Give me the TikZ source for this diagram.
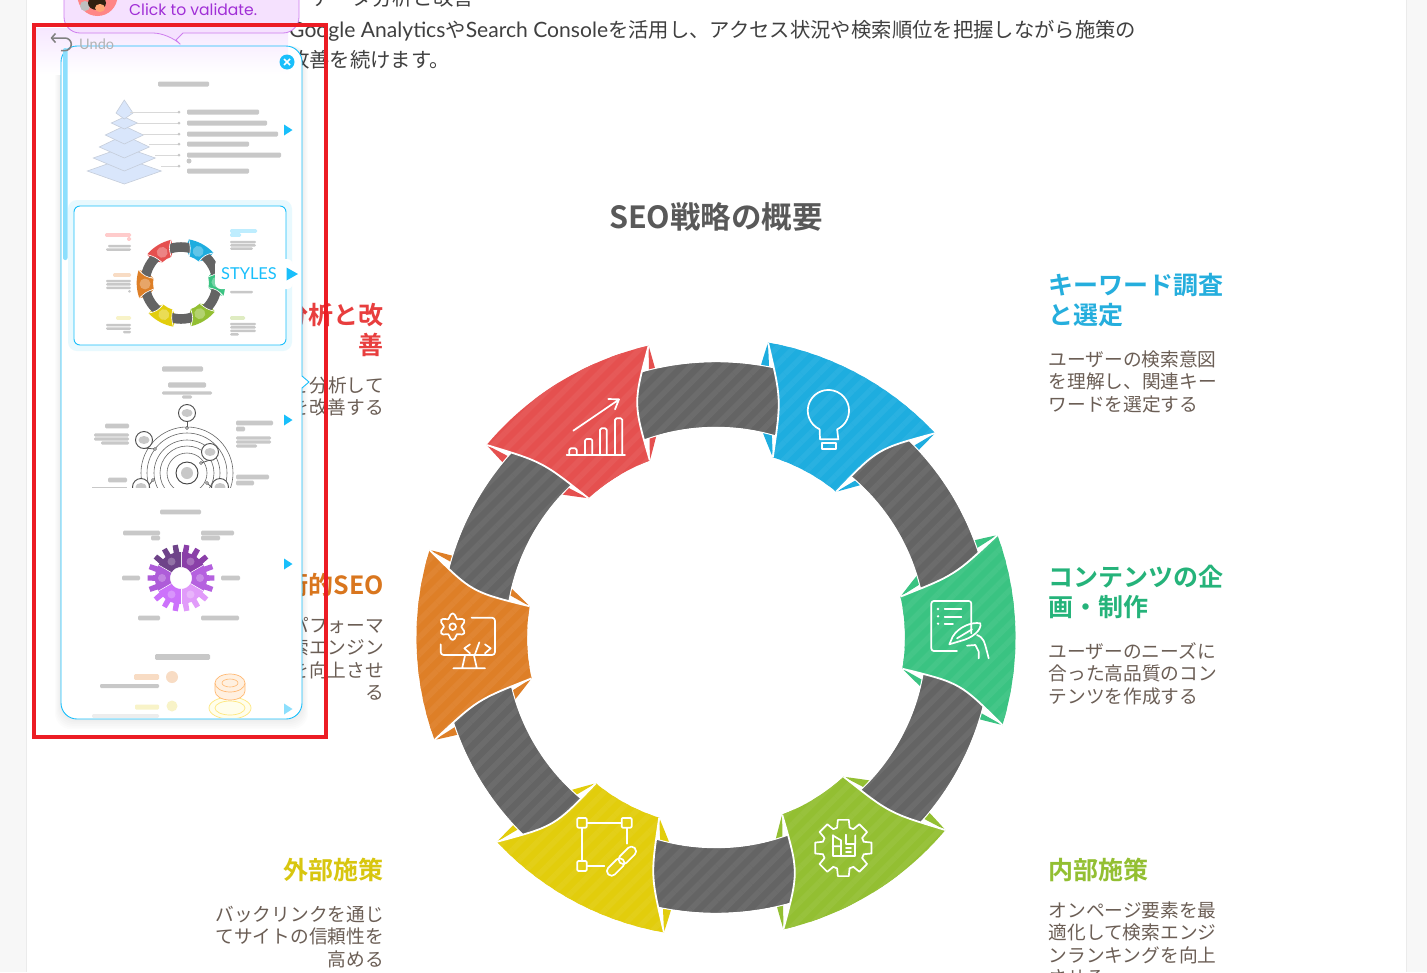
\documentclass[tikz,border=0pt]{standalone}
\usepackage{fontspec}
\setmainfont{Noto Sans CJK JP}[BoldFont=* Bold]
\newfontfamily\lat{Lato}
\newfontfamily\pop{Poppins}
\usetikzlibrary{patterns.meta}
\definecolor{cblue}{HTML}{1EADDF}
\definecolor{cgreen}{HTML}{3AC382}
\definecolor{clime}{HTML}{93BF32}
\definecolor{cyellow}{HTML}{E2CD0C}
\definecolor{corange}{HTML}{DE7F27}
\definecolor{cred}{HTML}{E5504F}
\definecolor{cgray}{HTML}{646464}
\definecolor{hblue}{HTML}{25AEDD}
\definecolor{hgreen}{HTML}{25B37A}
\definecolor{hlime}{HTML}{93BF32}
\definecolor{hyellow}{HTML}{D8C60F}
\definecolor{horange}{HTML}{D9761E}
\definecolor{hred}{HTML}{E83E3E}
\definecolor{bodyc}{HTML}{6B5E55}
\definecolor{uiblue}{HTML}{19BFFB}
\definecolor{barg}{HTML}{C8C8C8}
\definecolor{boxred}{HTML}{EC1C24}
\definecolor{paley}{HTML}{F8F3C8}
\definecolor{paleo}{HTML}{F8DCC4}
\tikzset{
  txthead/.style={inner sep=0pt,font=\bfseries\fontsize{25}{30}\selectfont},
  txtbody/.style={inner sep=0pt,text=bodyc,font=\fontsize{18.7}{22}\selectfont},
  txttop/.style={inner sep=0pt,text=black!75,anchor=base west,font=\fontsize{20.35}{24}\selectfont},
  iconline/.style={draw=white,line width=1.7pt,line cap=round,line join=round},
}
\newcommand\segpath{(-95,-284) arc[start angle=-108.5,end angle=-71.5,radius=299.5] .. controls (51.8,-243) .. (36.1,-185.5) arc[start angle=-79,end angle=-101,radius=189] .. controls (-56.1,-240.4) .. cycle}
\newcommand\stripes[1]{\path[pattern={Lines[angle=45,distance=12pt,line width=5.5pt]},pattern color=#1!95!white]}
\newcommand\flaps[2]{\begin{scope}[rotate=-#2]
  \fill[#1] (95,-284) .. controls (79.2,-226.5) .. (36.1,-185.5) -- cycle;
  \fill[#1] (-95,-284) .. controls (-83.5,-224) .. (-36.1,-185.5) -- cycle;
\end{scope}}
\newcommand\segmain[2]{\begin{scope}[rotate=-#2]
  \fill[#1] \segpath;
  \stripes{#1} \segpath;
  \draw[white,line width=1.8pt,line join=round] (95,-284) .. controls (51.8,-243) .. (36.1,-185.5);
  \draw[white,line width=1.8pt,line join=round] (-95,-284) .. controls (-56.1,-240.4) .. (-36.1,-185.5);
\end{scope}}
\newcommand\minimain[2]{\begin{scope}[rotate=-#2]
  \fill[#1] \segpath;
  \draw[white,line width=.6pt] (95,-284) .. controls (51.8,-243) .. (36.1,-185.5);
  \draw[white,line width=.6pt] (-95,-284) .. controls (-56.1,-240.4) .. (-36.1,-185.5);
  \fill[white,opacity=.3] (0,-243) circle[radius=37];
\end{scope}}
\def\bh{2.5}
\newcommand\gb[4][barg]{\fill[#1,rounded corners=1.2pt] (#2,#4-\bh) rectangle (#3,#4+\bh);}
\newcommand\tri[2][uiblue]{\fill[#1] (284,#2-5.5) -- (292.5,#2) -- (284,#2+5.5) -- cycle;}
\newcommand\pin[4]{\draw[black!65,line width=.8pt] (#3,#4) -- (#1,#2+8); \draw[black!70,fill=white,line width=.9pt] (#1,#2) circle[radius=8.5]; \fill[barg] (#1,#2) ellipse[x radius=5.5,y radius=4]; \draw[black!70,fill=white,line width=.6pt] (#3,#4) circle[radius=1.5];}
\newcommand\gearsec[2]{%
  \pgfmathsetmacro\gsa{#2}\pgfmathsetmacro\gsb{#2+60}%
  \fill[#1] (\gsa:11) -- (\gsa:26) arc[start angle=\gsa,end angle=\gsb,radius=26] -- (\gsb:11) arc[start angle=\gsb,end angle=\gsa,radius=11] -- cycle;
  \foreach \t in {10,30,50}{\fill[#1] (#2+\t-6.5:25) -- (#2+\t-4.5:33.5) -- (#2+\t+4.5:33.5) -- (#2+\t+6.5:25) -- cycle;}
  \fill[white,opacity=.25] (#2+30:19) circle[radius=4];
  \draw[white,line width=.5pt] (#2:11) -- (#2:34);}
\begin{document}
\begin{tikzpicture}[x=1pt,y=-1pt]
\useasboundingbox (0,0) rectangle (1427,972);
\fill[black!3] (0,0) rectangle (1427,972);
\fill[white] (26,0) rectangle (1406,972);
\draw[black!8,line width=.8pt] (26,0) -- (26,972) (1406,0) -- (1406,972);
% ===== article text
\node[txttop] (t1) at (311,5) {データ分析と改善};
\node[txttop] (t2) at (289,37) {{\lat\fontsize{21.1}{24}\selectfont Google Analytics}や{\lat\fontsize{21.1}{24}\selectfont Search Console}を活用し、アクセス状況や検索順位を把握しながら施策の};
\node[txttop] (t3) at (289,67) {改善を続けます。};
\node[inner sep=0pt,text=black!65,font=\bfseries\fontsize{30.5}{36}\selectfont] (title) at (716,217) {SEO戦略の概要};
% ===== right labels
\node[txthead,text=hblue,anchor=base west] (a1) at (1048.5,294) {キーワード調査};
\node[txthead,text=hblue,anchor=base west] (a2) at (1048.5,324) {と選定};
\node[txtbody,anchor=base west] (a3) at (1048.5,366.3) {ユーザーの検索意図};
\node[txtbody,anchor=base west] (a4) at (1048.5,388.8) {を理解し、関連キー};
\node[txtbody,anchor=base west] (a5) at (1048.5,411.3) {ワードを選定する};
\node[txthead,text=hgreen,anchor=base west] (b1) at (1048.5,586) {コンテンツの企};
\node[txthead,text=hgreen,anchor=base west] (b2) at (1048.5,616) {画・制作};
\node[txtbody,anchor=base west] (b3) at (1048.5,658.3) {ユーザーのニーズに};
\node[txtbody,anchor=base west] (b4) at (1048.5,680.8) {合った高品質のコン};
\node[txtbody,anchor=base west] (b5) at (1048.5,703.3) {テンツを作成する};
\node[txthead,text=hlime,anchor=base west] (c1) at (1048.5,879) {内部施策};
\node[txtbody,anchor=base west] (c2) at (1048.5,917.3) {オンページ要素を最};
\node[txtbody,anchor=base west] (c3) at (1048.5,939.8) {適化して検索エンジ};
\node[txtbody,anchor=base west] (c4) at (1048.5,962.3) {ンランキングを向上};
\node[txtbody,anchor=base west] (c5) at (1048.5,984.8) {させる};
% ===== left labels
\node[txthead,text=hred,anchor=base east] (d1) at (384,324) {分析と改};
\node[txthead,text=hred,anchor=base east] (d2) at (384,354) {善};
\node[txtbody,anchor=base east] (d3) at (384,392.3) {を分析して};
\node[txtbody,anchor=base east] (d4) at (384,414.8) {を改善する};
\node[txthead,text=horange,anchor=base east] (e1) at (384,594) {術的SEO};
\node[txtbody,anchor=base east] (e2) at (384,632.3) {パフォーマ};
\node[txtbody,anchor=base east] (e3) at (384,654.8) {索エンジン};
\node[txtbody,anchor=base east] (e4) at (384,677.3) {を向上させ};
\node[txtbody,anchor=base east] (e5) at (384,699.8) {る};
\node[txthead,text=hyellow,anchor=base east] (f1) at (384,879) {外部施策};
\node[txtbody,anchor=base east] (f2) at (384,921.3) {バックリンクを通じ};
\node[txtbody,anchor=base east] (f3) at (384,943.8) {てサイトの信頼性を};
\node[txtbody,anchor=base east] (f4) at (384,966.3) {高める};
% ===== big ring
\begin{scope}[shift={(716,637.5)}]
  \flaps{cblue}{28.5}\flaps{cgreen}{88.5}\flaps{clime}{148.5}\flaps{cyellow}{208.5}\flaps{corange}{268.5}\flaps{cred}{328.5}
  \fill[cgray,even odd rule] (0,0) circle[radius=275.5] (0,0) circle[radius=210.5];
  \path[pattern={Lines[angle=45,distance=12pt,line width=5.5pt]},pattern color=cgray!95!white,even odd rule] (0,0) circle[radius=275.5] (0,0) circle[radius=210.5];
  \draw[white,line width=1pt] (0,0) circle[radius=275.8] (0,0) circle[radius=210.2];
  \segmain{cblue}{28.5}\segmain{cgreen}{88.5}\segmain{clime}{148.5}\segmain{cyellow}{208.5}\segmain{corange}{268.5}\segmain{cred}{328.5}
\end{scope}
% bulb icon
\begin{scope}[shift={(740,330)},x=.3333pt,y=-.3333pt]
  \draw[iconline] (239,298) arc[start angle=115,end angle=425,radius=62] -- (295,328) -- (240,328) -- cycle;
  \draw[iconline] (247,340) -- (247,356) -- (287,356) -- (287,340) -- cycle;
\end{scope}
% chart icon
\begin{scope}[shift={(560,390)},x=.3333pt,y=-.3333pt]
  \draw[iconline] (40,122) -- (175,30) (145,27) -- (177,28) -- (165,58);
  \draw[iconline] (20,195) -- (195,195);
  \draw[iconline,rounded corners=1.5pt] (28,195) -- (28,175) -- (50,175) -- (50,195);
  \draw[iconline,rounded corners=1.5pt] (75,195) -- (75,147) -- (97,147) -- (97,195);
  \draw[iconline,rounded corners=1.5pt] (120,195) -- (120,115) -- (140,115) -- (140,195);
  \draw[iconline,rounded corners=1.5pt] (165,195) -- (165,85) -- (187,85) -- (187,195);
\end{scope}
% computer / gear icon
\begin{scope}[shift={(430,605)},x=.3333pt,y=-.3333pt]
  \draw[iconline] plot[smooth cycle,samples=36,domain=0:350] ({68+(33-7*cos(6*\x))*cos(\x)},{65+(33-7*cos(6*\x))*sin(\x)});
  \draw[iconline] (68,65) circle[radius=10];
  \draw[iconline,rounded corners=3pt] (125,38) -- (195,38) -- (195,150) -- (32,150) -- (32,118);
  \draw[iconline] (105,152) -- (97,187) (132,152) -- (140,187) (70,190) -- (165,190);
  \draw[iconline] (120,118) -- (103,130) -- (120,145) (148,112) -- (135,148) (165,118) -- (182,130) -- (165,145);
\end{scope}
% document / pen icon
\begin{scope}[shift={(922,595)},x=.3333pt,y=-.3333pt]
  \draw[iconline,rounded corners=2.5pt] (148,115) -- (148,18) -- (28,18) -- (28,168) -- (105,168);
  \fill[white] (48,42) circle[radius=4] (48,64) circle[radius=4] (48,86) circle[radius=4];
  \draw[iconline] (68,42) -- (118,42) (68,65) -- (118,65) (68,87) -- (93,87);
  \draw[iconline] (82,148) -- (92,125) .. controls (110,95) and (150,80) .. (175,85) .. controls (180,105) and (150,130) .. (115,138) -- cycle;
  \draw[iconline] (105,130) -- (150,103);
  \draw[iconline] (135,152) -- (160,150) -- (170,170) -- (170,190);
  \draw[iconline] (165,120) .. controls (185,130) .. (200,190);
\end{scope}
% link icon
\begin{scope}[shift={(570,812)},x=.3333pt,y=-.3333pt]
  \draw[iconline,rounded corners=1pt] (22,18) rectangle (50,47) (155,18) rectangle (185,47) (22,147) rectangle (50,177);
  \draw[iconline] (50,32) -- (155,32) (37,47) -- (37,147) (170,47) -- (170,95) (50,162) -- (103,162);
  \draw[iconline,rounded corners=4.4pt,rotate around={45:(137,165)}] (106,151) rectangle (168,179);
  \draw[iconline,rounded corners=4.4pt,rotate around={45:(172,130)}] (141,116) rectangle (203,144);
\end{scope}
% cog icon
\begin{scope}[shift={(806,812)},x=.3333pt,y=-.3333pt]
  \begin{scope}[shift={(112,108)}]
  \foreach \a in {0,45,...,315}{
    \draw[iconline] (\a-17:64) -- (\a-11:86) -- (\a+11:86) -- (\a+17:64) -- (\a+28:64);
  }
  \end{scope}
  \draw[iconline] (80,70) -- (80,133) -- (148,133) -- (148,95) -- (120,95) -- (120,68);
  \draw[iconline] (80,70) -- (105,85) -- (105,133) (80,103) -- (105,103) (120,108) -- (135,108) (120,120) -- (135,120) (148,95) -- (148,70);
\end{scope}
% ===== side panel
\foreach \i in {1,...,6}{
  \fill[black,opacity=.012,rounded corners=16pt] (61-\i,46) rectangle (302+\i,719+\i*1.7);
}
\fill[white,rounded corners=16pt] (61,46) rectangle (302,719);
\shade[top color={rgb,255:red,246;green,231;blue,255},bottom color=white] (35.5,28) rectangle (288,74);
\draw[uiblue,line width=.9pt,rounded corners=16pt] (61,46) rectangle (302,719);
\fill[white] (301,376) -- (309,382) -- (301,388) -- cycle;
\draw[uiblue,line width=.9pt] (302,376) -- (309,382) -- (302,388);
\fill[uiblue!50!white,rounded corners=2pt] (63,48) rectangle (67.5,260);
\fill[uiblue] (287,62) circle[radius=7.5];
\draw[white,line width=1.6pt] (284,59) -- (290,65) (290,59) -- (284,65);
% bubble
\draw[draw={rgb,255:red,206;green,125;blue,238},fill={rgb,255:red,245;green,225;blue,254},line width=.8pt,rounded corners=16pt] (64,-30) -- (64,33) -- (169,33) [sharp corners] -- (176,40) -- (183,33) [rounded corners=16pt] -- (299,33) -- (299,-30);
\fill[pink!70!red] (97.5,-4) circle[radius=20];
\fill[black!25!white] (85,6) circle[radius=5];
\fill[black!75!brown] (97,3) ellipse[x radius=9,y radius=7];
\fill[orange!40!pink] (100,8) ellipse[x radius=5,y radius=4];
\node[inner sep=0pt,anchor=base west,text={rgb,255:red,160;green,47;blue,214},font=\pop\fontsize{15.6}{20}\selectfont] (val) at (129,15) {Click to validate.};
% undo
\draw[black!50,line width=1.5pt,line join=round] (55.5,33.5) -- (51.5,38) -- (55.5,42.5);
\draw[black!50,line width=1.5pt] (52,38) -- (65,38) arc[start angle=-90,end angle=90,radius=6.3] -- (61,50.5);
\node[inner sep=0pt,anchor=base west,text=black!30,font=\lat\fontsize{14.5}{18}\selectfont] (und) at (79,49) {Undo};
% --- item 1
\gb{158}{209}{84}
\foreach \w/\ya/\yb/\yc in {37/171/158/184,31/158/147/171,25/147/135/158,19/135/126/144,13/123/117/129}{
  \draw[fill={rgb,255:red,217;green,230;blue,251},draw={rgb,255:red,197;green,205;blue,218},line width=.6pt] (124.3-\w,\ya) -- (124.3,\yb) -- (124.3+\w,\ya) -- (124.3,\yc) -- cycle;
}
\draw[fill={rgb,255:red,217;green,230;blue,251},draw={rgb,255:red,197;green,205;blue,218},line width=.6pt] (124.3,100) -- (116,113) -- (124.3,119) -- (133,113) -- cycle;
\foreach \y/\xa in {112/130,123/137,134/143,144/149,155/155,166/161}{
  \draw[black!15,line width=.8pt] (\xa,\y) -- (179,\y);
  \fill[black!22] (179,\y) circle[radius=1.5];
}
\gb{187}{259}{112}\gb{187}{267}{123}\gb{187}{278}{134}\gb{187}{249}{144}\gb{187}{281}{155}\fill[barg] (189,161) circle[radius=2.5];\gb{187}{249}{171}
\tri{130}
% --- item 2
\fill[uiblue!10!white,rounded corners=9pt] (68,200) rectangle (292,351);
\draw[uiblue,fill=white,line width=.9pt,rounded corners=6pt] (74,206) rectangle (286,345);
\begin{scope}[shift={(181,283)},scale=.148]
  \flaps{cblue}{28.5}\flaps{cgreen}{88.5}\flaps{clime}{148.5}\flaps{cyellow}{208.5}\flaps{corange}{268.5}\flaps{cred}{328.5}
  \fill[cgray,even odd rule] (0,0) circle[radius=275.5] (0,0) circle[radius=210.5];
  \minimain{cblue}{28.5}\minimain{cgreen}{88.5}\minimain{clime}{148.5}\minimain{cyellow}{208.5}\minimain{corange}{268.5}\minimain{cred}{328.5}
\end{scope}
\def\bh{1.8}
\gb[red!20!white]{105}{131}{235}\gb[red!20!white]{127}{131}{239}
\gb[uiblue!28!white]{230}{257}{231}\gb[uiblue!28!white]{230}{241}{235}
\gb[paleo]{113}{131}{275}\gb[paley]{116}{131}{318}\gb[clime!30!white]{230}{245}{318}
\def\bh{1.25}
\gb{108}{131}{246}\gb{106}{131}{249.5}
\gb{230}{256}{242}\gb{230}{256}{245.3}\gb{230}{253}{248.6}
\gb{230}{253}{292}
\gb{106}{131}{281}\gb{106}{131}{284.4}\gb{106}{131}{287.8}\gb{128}{131}{291.4}
\gb{106}{131}{325}\gb{106}{131}{328.5}\gb{123}{131}{332}
\gb{230}{256}{324}\gb{230}{256}{327.4}\gb{230}{256}{330.8}\gb{230}{239}{334.3}
\fill[white,rounded corners=6pt] (215,259) rectangle (293,289);
\node[inner sep=0pt,anchor=base west,text=uiblue,font=\lat\fontsize{16.4}{18}\selectfont] (sty) at (221,279.5) {STYLES};
\fill[uiblue] (286.5,267.5) -- (298,274) -- (286.5,280.5) -- cycle;
% --- item 3
\def\bh{2.6}
\gb{162}{203}{369}\gb{168}{206}{385}\def\bh{1.6}\gb{162}{212}{393}\gb{182}{192}{397}\def\bh{2.3}
\gb{105}{129}{426}\gb{236}{273}{423}\gb{236}{245}{429}
\def\bh{1.6}
\gb{94}{129}{435}\gb{94}{129}{439}\gb{101}{129}{443}
\gb{236}{271}{438}\gb{236}{271}{442}\gb{236}{257}{446}
\def\bh{2.3}
\gb{108}{127}{480}\gb{236}{269}{477}\gb{236}{254}{483}
\draw[barg,line width=.7pt] (92,487) -- (127,487);
\begin{scope}
  \clip (62,400) rectangle (300,487.3);
  \foreach \r in {46,40,33,27,20}{\draw[black!60,line width=.6pt] (187,473) circle[radius=\r];}
  \draw[black!75,line width=.9pt] (187,473) circle[radius=11];
  \fill[barg] (187,473) circle[radius=6];
  \pin{187}{413}{187}{428}\pin{144}{440}{155}{449}\pin{210}{452}{201}{463}\pin{141}{487}{153}{480}\pin{220}{487}{207}{483}
\end{scope}
\tri{420}
% --- item 4
\gb{160}{201}{512}\gb{123}{160}{533}\gb{151}{160}{538}\gb{201}{234}{533}\gb{201}{220}{538}
\gb{122}{140}{578}\gb{221}{240}{578}\gb{138}{160}{618}\gb{201}{239}{618}
\begin{scope}[shift={(181,578)}]
  \definecolor{g1}{HTML}{8A3FA8}\definecolor{g2}{HTML}{B561DF}\definecolor{g3}{HTML}{E19BFA}\definecolor{g4}{HTML}{CC72FB}\definecolor{g5}{HTML}{AE5CD9}\definecolor{g6}{HTML}{6E4389}
  \gearsec{g1}{-90}\gearsec{g2}{-30}\gearsec{g3}{30}\gearsec{g4}{90}\gearsec{g5}{150}\gearsec{g6}{210}
\end{scope}
\tri{564}
% --- item 5
\def\bh{2.8}
\gb{155}{210}{657}\gb[paleo]{134}{159}{677}\fill[paleo] (172,677) circle[radius=6];
\def\bh{2}
\gb{100}{159}{686}\def\bh{2.5}\gb[paley]{135}{159}{707}\fill[paley] (172,706) circle[radius=5.5];
\def\bh{1.8}\gb[black!7]{92}{159}{716}
\begin{scope}
  \clip (120,690) rectangle (290,717);
  \draw[yellow!70!orange!50,fill=yellow!8!white,line width=.7pt] (230,708) ellipse[x radius=21,y radius=11];
  \draw[yellow!70!orange!50,line width=.7pt] (230,708) ellipse[x radius=15,y radius=7];
\end{scope}
\draw[orange!55,fill=orange!12!white,line width=.7pt] (215,683) -- (215,691) arc[start angle=180,end angle=0,x radius=15,y radius=9] -- (245,683);
\draw[orange!55,fill=orange!12!white,line width=.7pt] (230,683) ellipse[x radius=15,y radius=9];
\draw[orange!55,line width=.6pt] (230,683) ellipse[x radius=8,y radius=4];
\tri[uiblue!50!white]{709}
% ===== red box
\draw[boxred,line width=3.8pt] (33.7,25) rectangle (326,737);
\end{tikzpicture}
\end{document}
